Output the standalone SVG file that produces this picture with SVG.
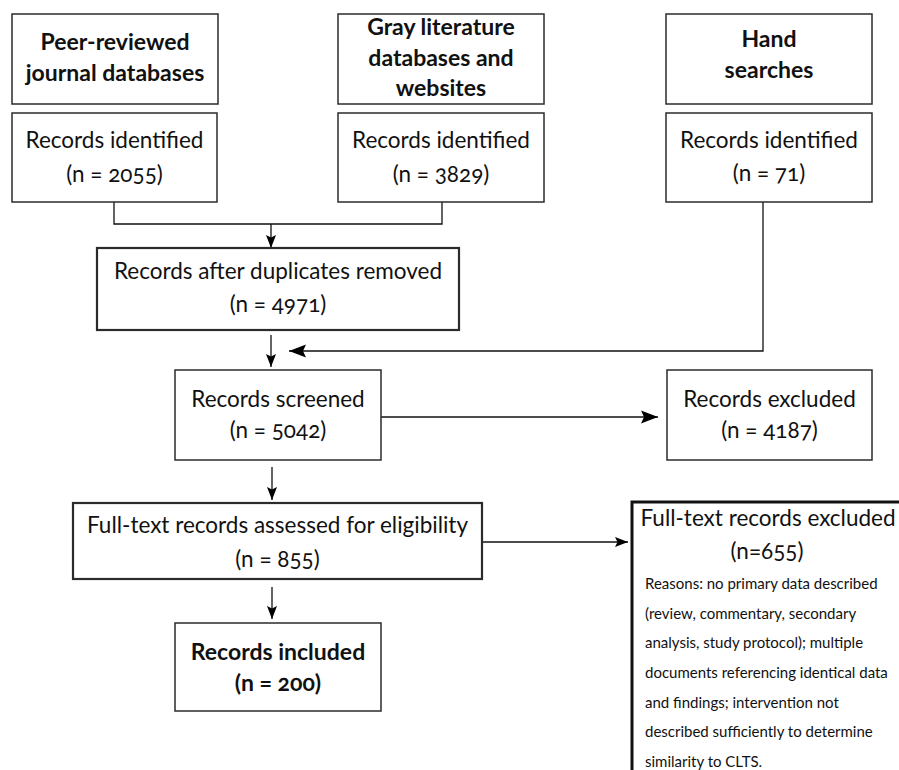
<svg xmlns="http://www.w3.org/2000/svg" width="899" height="770" viewBox="0 0 899 770">
<defs>
<style>
.box{fill:#fff;stroke:#2b2b2b;stroke-width:1.5}
.thick{stroke-width:2.2}
.heavy{stroke-width:3;stroke:#111}
text{font-family:Lato,"Liberation Sans",sans-serif;fill:#111;text-anchor:middle;font-variant-numeric:oldstyle-nums;font-feature-settings:"onum"}
.t{font-size:22.5px}
.b{font-size:23px;font-weight:bold}
.r{font-size:15px;text-anchor:start}
.ln{fill:none;stroke:#111;stroke-width:1.3}
</style>
<marker id="aS" markerUnits="userSpaceOnUse" markerWidth="14" markerHeight="12" refX="13" refY="6" orient="auto"><path d="M0,1 L13,6 L0,11 L2.5,6 Z" fill="#000"/></marker>
<marker id="aL" markerUnits="userSpaceOnUse" markerWidth="18" markerHeight="14" refX="17" refY="7" orient="auto"><path d="M0,0.5 L17,7 L0,13.5 L3,7 Z" fill="#000"/></marker>
</defs>

<g id="connectors">
<path class="ln" d="M114,202 V224 H442 V202"/>
<path class="ln" d="M271,224 V248" marker-end="url(#aS)"/>
<path class="ln" d="M271,335 V367" marker-end="url(#aS)"/>
<path class="ln" d="M763,202 V351 H289" marker-end="url(#aL)"/>
<path class="ln" d="M272,467 V500" marker-end="url(#aS)"/>
<path class="ln" d="M272,587 V619" marker-end="url(#aS)"/>
<path class="ln" d="M381,417 H658" marker-end="url(#aL)"/>
<path class="ln" d="M482,542 H628" marker-end="url(#aS)"/>
</g>

<g id="peer-reviewed">
<rect class="box" x="12" y="14" width="206" height="90"/>
<text class="b" x="115" y="50">Peer-reviewed</text>
<text class="b" x="115" y="81">journal databases</text>
</g>
<g id="gray-literature">
<rect class="box" x="338" y="14" width="206" height="90"/>
<text class="b" x="441" y="35">Gray literature</text>
<text class="b" x="441" y="66">databases and</text>
<text class="b" x="441" y="96">websites</text>
</g>
<g id="hand-searches">
<rect class="box" x="666" y="14" width="206" height="90"/>
<text class="b" x="769" y="47">Hand</text>
<text class="b" x="769" y="78">searches</text>
</g>
<g id="identified-peer">
<rect class="box" x="12" y="113" width="205" height="89"/>
<text class="t" x="114.5" y="148">Records identified</text>
<text class="t" x="114.5" y="182">(n = 2055)</text>
</g>
<g id="identified-gray">
<rect class="box" x="338" y="113" width="206" height="89"/>
<text class="t" x="441" y="148">Records identified</text>
<text class="t" x="441" y="182">(n = 3829)</text>
</g>
<g id="identified-hand">
<rect class="box" x="666" y="113" width="206" height="89"/>
<text class="t" x="769" y="148">Records identified</text>
<text class="t" x="769" y="181">(n = 71)</text>
</g>
<g id="duplicates-removed">
<rect class="box thick" x="97" y="248" width="362" height="82"/>
<text class="t" x="278" y="279">Records after duplicates removed</text>
<text class="t" x="278" y="312">(n = 4971)</text>
</g>
<g id="screened">
<rect class="box" x="175" y="370" width="206" height="90"/>
<text class="t" x="278" y="407">Records screened</text>
<text class="t" x="278" y="438">(n = 5042)</text>
</g>
<g id="excluded">
<rect class="box" x="667" y="370" width="205" height="90"/>
<text class="t" x="769.5" y="407">Records excluded</text>
<text class="t" x="769.5" y="438">(n = 4187)</text>
</g>
<g id="full-text-assessed">
<rect class="box thick" x="73" y="503" width="409" height="76"/>
<text class="t" x="277.5" y="533">Full-text records assessed for eligibility</text>
<text class="t" x="277.5" y="567">(n = 855)</text>
</g>
<g id="included">
<rect class="box" x="175" y="623" width="206" height="88"/>
<text class="b" x="278" y="660">Records included</text>
<text class="b" x="278" y="691">(n = 200)</text>
</g>
<g id="full-text-excluded">
<rect class="box heavy" x="632" y="502" width="300" height="300"/>
<text class="t" x="768" y="526">Full-text records excluded</text>
<text class="t" x="767" y="559">(n=655)</text>
<text class="r" x="645" y="589">Reasons: no primary data described</text>
<text class="r" x="645" y="619">(review, commentary, secondary</text>
<text class="r" x="645" y="648">analysis, study protocol); multiple</text>
<text class="r" x="645" y="678">documents referencing identical data</text>
<text class="r" x="645" y="708">and findings; intervention not</text>
<text class="r" x="645" y="737">described sufficiently to determine</text>
<text class="r" x="645" y="767">similarity to CLTS.</text>
</g>
</svg>
